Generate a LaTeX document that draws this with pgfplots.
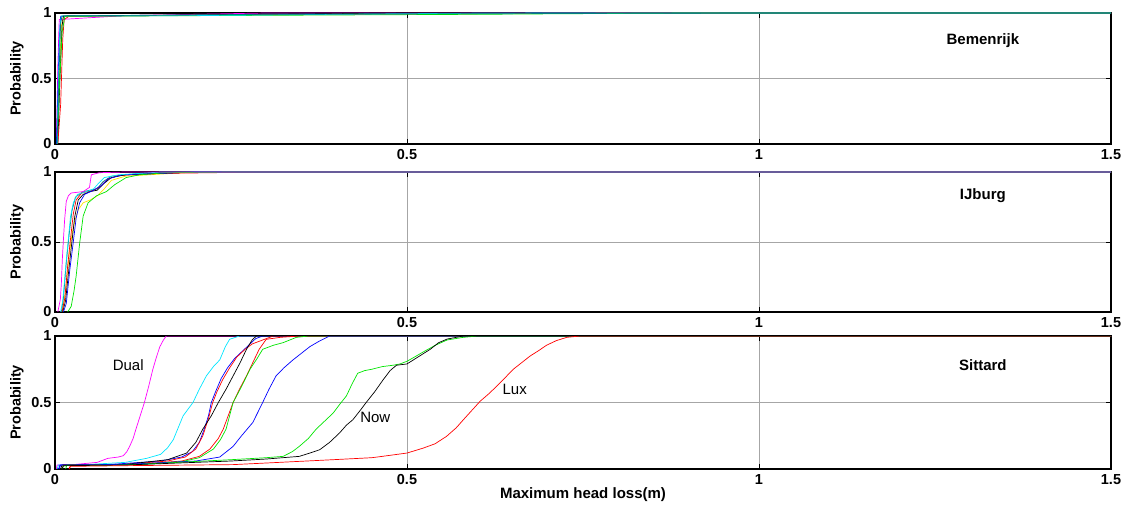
\documentclass[border=0pt]{standalone}
\usepackage{fontspec}
\setmainfont{Liberation Sans}
\usepackage{pgfplots}
\pgfplotsset{compat=1.18}
\definecolor{mblue}{rgb}{0,0,1}
\definecolor{mgreen}{rgb}{0,0.9,0}
\definecolor{mred}{rgb}{1,0,0}
\definecolor{mcyan}{rgb}{0,0.9,1}
\definecolor{mmag}{rgb}{1,0,1}
\definecolor{myel}{rgb}{1,0.9,0}
\definecolor{mteal}{rgb}{0,0.5,0.5}
\tikzset{
  lbl/.style={font=\fontsize{15}{18}\selectfont\bfseries},
  cl/.style={font=\fontsize{15}{18}\selectfont},
}
\pgfplotsset{
  panel/.style={
    scale only axis, width=1056pt,
    xmin=0, xmax=1.5, ymin=0, ymax=1,
    xtick={0,0.5,1,1.5}, ytick={0,0.5,1},
    xticklabels={0,0.5,1,1.5}, yticklabels={0,0.5,1},
    grid=major, grid style={gray!70, line width=0.4pt},
    tick align=inside, major tick length=5pt,
    axis line style={line width=1.1pt},
    every tick/.style={black, line width=0.8pt},
    /pgf/number format/assume math mode=true,
    ticklabel style={font=\fontsize{14.5}{17}\selectfont\bfseries},
    xticklabel style={yshift=-2pt},
    ylabel={Probability},
    ylabel style={font=\fontsize{14.5}{17}\selectfont\bfseries, at={([xshift=-38pt]axis description cs:0,0.5)}, anchor=center},
    every axis plot/.append style={line width=0.7pt, no marks},
  },
}
\begin{document}
\begin{tikzpicture}
\useasboundingbox (-55pt,0pt) rectangle (1077pt,-510pt);
% ---------------- Bemenrijk
\begin{axis}[panel, at={(0pt,-144pt)}, anchor=south west, height=131pt]
\addplot[myel] coordinates {(0.003,0) (0.006,0.5) (0.009,0.9) (0.012,0.975) (0.3,0.99) (0.6,1) (1.5,1)};
\addplot[mmag] coordinates {(0.002,0) (0.004,0.6) (0.006,0.95) (0.1,0.98) (0.3,1) (1.5,1)};
\addplot[mblue] coordinates {(0.002,0) (0.004,0.4) (0.006,0.8) (0.008,0.975) (0.1,0.978) (0.3,0.99) (0.6,1) (1.5,1)};
\addplot[black] coordinates {(0.004,0) (0.007,0.5) (0.01,0.9) (0.012,0.978) (0.2,0.985) (0.5,1) (1.5,1)};
\addplot[mred] coordinates {(0.004,0) (0.008,0.3) (0.011,0.8) (0.013,0.95) (0.02,0.975) (0.09,0.978) (0.4,0.99) (0.8,1) (1.5,1)};
\addplot[mgreen] coordinates {(0.003,0) (0.006,0.4) (0.01,0.85) (0.014,0.975) (0.14,0.978) (0.6,0.99) (0.9,1) (1.5,1)};
\addplot[mcyan] coordinates {(0.003,0) (0.005,0.5) (0.007,0.9) (0.009,0.978) (0.2,0.98) (0.5,0.995) (0.7,1) (1.5,1)};
\addplot[mteal] coordinates {(0.003,0) (0.0055,0.5) (0.008,0.92) (0.01,0.978) (0.3,0.99) (1.0,1) (1.5,1)};
\node[lbl] at (axis cs:1.318,0.79) {Bemenrijk};
\end{axis}
% ---------------- IJburg
\begin{axis}[panel, at={(0pt,-312pt)}, anchor=south west, height=140pt]
\addplot[myel] coordinates {(0.01,0) (0.015,0.15) (0.02,0.4) (0.024,0.55) (0.028,0.65) (0.033,0.73) (0.04,0.78) (0.05,0.8) (0.06,0.83) (0.07,0.88) (0.08,0.94) (0.1,0.97) (0.2,1) (1.5,1)};
\addplot[mteal] coordinates {(0.009,0) (0.012,0.1) (0.016,0.35) (0.02,0.55) (0.024,0.72) (0.029,0.82) (0.04,0.86) (0.06,0.88) (0.068,0.93) (0.08,0.97) (0.12,0.99) (0.2,1) (1.5,1)};
\addplot[mred] coordinates {(0.01,0) (0.014,0.1) (0.018,0.33) (0.022,0.52) (0.026,0.7) (0.03,0.8) (0.038,0.85) (0.055,0.87) (0.065,0.9) (0.075,0.95) (0.09,0.975) (0.15,0.99) (0.3,1) (1.5,1)};
\addplot[black] coordinates {(0.011,0) (0.015,0.08) (0.02,0.32) (0.024,0.5) (0.028,0.68) (0.033,0.8) (0.04,0.84) (0.05,0.86) (0.06,0.87) (0.064,0.89) (0.07,0.92) (0.08,0.96) (0.1,0.98) (0.2,1) (1.5,1)};
\addplot[mblue] coordinates {(0.012,0) (0.016,0.06) (0.021,0.3) (0.026,0.5) (0.03,0.67) (0.035,0.78) (0.042,0.84) (0.055,0.87) (0.065,0.9) (0.075,0.95) (0.095,0.98) (0.2,1) (1.5,1)};
\addplot[mcyan] coordinates {(0.008,0) (0.011,0.08) (0.014,0.25) (0.017,0.42) (0.019,0.52) (0.022,0.68) (0.026,0.78) (0.032,0.84) (0.045,0.86) (0.055,0.88) (0.062,0.92) (0.07,0.96) (0.09,0.98) (0.15,1) (1.5,1)};
\addplot[mgreen] coordinates {(0.018,0) (0.023,0.04) (0.027,0.15) (0.03,0.255) (0.035,0.49) (0.04,0.685) (0.047,0.78) (0.059,0.83) (0.073,0.86) (0.085,0.91) (0.101,0.96) (0.12,0.98) (0.158,0.995) (0.25,1) (1.5,1)};
\addplot[mmag] coordinates {(0.004,0) (0.0076,0.09) (0.009,0.2) (0.0104,0.375) (0.012,0.52) (0.0137,0.66) (0.016,0.79) (0.019,0.83) (0.023,0.85) (0.04,0.86) (0.049,0.89) (0.0516,0.98) (0.063,0.995) (0.1,1) (1.5,1)};
\node[lbl] at (axis cs:1.318,0.83) {IJburg};
\end{axis}
% ---------------- Sittard
\begin{axis}[panel, at={(0pt,-469pt)}, anchor=south west, height=133pt,
  xlabel={Maximum head loss(m)},
  xlabel style={font=\fontsize{15}{18}\selectfont\bfseries, at={([yshift=-26pt]axis description cs:0.5,0)}, anchor=center}]
\addplot[mmag] coordinates {(0.002,0) (0.003,0.03) (0.03,0.035) (0.06,0.05) (0.075,0.08) (0.09,0.09) (0.097,0.10) (0.102,0.13) (0.106,0.17) (0.111,0.23) (0.115,0.30) (0.121,0.40) (0.127,0.50) (0.133,0.62) (0.139,0.75) (0.144,0.84) (0.149,0.92) (0.154,0.97) (0.158,1.0) (1.5,1.0)};
\addplot[mcyan] coordinates {(0.003,0) (0.005,0.03) (0.05,0.035) (0.10,0.05) (0.13,0.08) (0.15,0.11) (0.16,0.16) (0.168,0.22) (0.175,0.31) (0.182,0.40) (0.189,0.45) (0.196,0.50) (0.205,0.60) (0.215,0.70) (0.225,0.77) (0.234,0.82) (0.242,0.92) (0.248,0.975) (0.262,1.0) (1.5,1.0)};
\addplot[mblue] coordinates {(0.005,0) (0.007,0.03) (0.08,0.035) (0.15,0.06) (0.18,0.09) (0.195,0.13) (0.205,0.2) (0.212,0.3) (0.218,0.4) (0.222,0.5) (0.228,0.58) (0.236,0.68) (0.245,0.76) (0.255,0.83) (0.265,0.88) (0.275,0.93) (0.285,0.98) (0.295,1.0) (1.5,1.0)};
\addplot[mred] coordinates {(0.01,0) (0.012,0.03) (0.1,0.035) (0.16,0.06) (0.185,0.09) (0.2,0.15) (0.21,0.25) (0.218,0.38) (0.224,0.5) (0.23,0.58) (0.238,0.67) (0.248,0.76) (0.258,0.84) (0.27,0.9) (0.28,0.94) (0.29,0.96) (0.30,0.98) (0.31,1.0) (1.5,1)};
\addplot[black] coordinates {(0.008,0) (0.01,0.03) (0.1,0.035) (0.16,0.07) (0.187,0.12) (0.2,0.2) (0.21,0.3) (0.222,0.4) (0.232,0.5) (0.243,0.6) (0.253,0.70) (0.263,0.8) (0.272,0.90) (0.28,0.97) (0.286,1.0) (1.5,1)};
\addplot[mred] coordinates {(0.02,0) (0.022,0.03) (0.12,0.035) (0.18,0.06) (0.205,0.095) (0.22,0.15) (0.232,0.23) (0.239,0.3) (0.246,0.4) (0.253,0.5) (0.262,0.6) (0.272,0.70) (0.281,0.8) (0.29,0.90) (0.30,0.975) (0.32,0.99) (0.347,1.0) (1.5,1)};
\addplot[mgreen] coordinates {(0.015,0) (0.017,0.03) (0.12,0.035) (0.18,0.055) (0.205,0.085) (0.225,0.15) (0.235,0.22) (0.243,0.3) (0.248,0.4) (0.253,0.5) (0.265,0.62) (0.277,0.75) (0.287,0.83) (0.295,0.9) (0.31,0.93) (0.324,0.95) (0.343,0.99) (0.36,1) (1.5,1)};
\addplot[mblue] coordinates {(0.006,0) (0.008,0.03) (0.1,0.035) (0.2,0.06) (0.234,0.09) (0.253,0.17) (0.265,0.25) (0.281,0.35) (0.295,0.5) (0.304,0.6) (0.314,0.70) (0.325,0.76) (0.338,0.82) (0.35,0.87) (0.362,0.92) (0.375,0.96) (0.39,1.0) (1.5,1)};
\addplot[mgreen] coordinates {(0.01,0) (0.012,0.025) (0.1,0.03) (0.25,0.07) (0.3,0.085) (0.324,0.095) (0.337,0.13) (0.347,0.17) (0.36,0.23) (0.371,0.30) (0.383,0.36) (0.395,0.42) (0.405,0.49) (0.414,0.55) (0.422,0.64) (0.43,0.72) (0.44,0.74) (0.45,0.75) (0.465,0.77) (0.48,0.78) (0.49,0.79) (0.5,0.81) (0.51,0.84) (0.523,0.88) (0.54,0.93) (0.557,0.97) (0.58,0.99) (0.6,1.0) (1.5,1)};
\addplot[black] coordinates {(0.01,0) (0.012,0.025) (0.1,0.03) (0.25,0.06) (0.3,0.075) (0.347,0.095) (0.362,0.12) (0.376,0.145) (0.39,0.2) (0.404,0.27) (0.414,0.33) (0.423,0.37) (0.432,0.43) (0.442,0.5) (0.454,0.58) (0.466,0.67) (0.476,0.74) (0.485,0.78) (0.5,0.79) (0.515,0.84) (0.533,0.90) (0.545,0.95) (0.557,0.977) (0.58,1.0) (1.5,1)};
\addplot[mred] coordinates {(0.02,0) (0.022,0.02) (0.1,0.025) (0.253,0.033) (0.3,0.045) (0.395,0.07) (0.45,0.085) (0.462,0.093) (0.5,0.12) (0.523,0.157) (0.54,0.19) (0.556,0.245) (0.57,0.31) (0.58,0.37) (0.592,0.44) (0.604,0.51) (0.615,0.56) (0.627,0.62) (0.64,0.69) (0.651,0.75) (0.663,0.80) (0.675,0.85) (0.687,0.89) (0.698,0.93) (0.712,0.965) (0.727,0.99) (0.746,1.0) (1.5,1)};
\node[cl] at (axis cs:0.104,0.78) {Dual};
\node[cl] at (axis cs:0.455,0.386) {Now};
\node[cl] at (axis cs:0.653,0.60) {Lux};
\node[lbl] at (axis cs:1.318,0.78) {Sittard};
\end{axis}
\end{tikzpicture}
\end{document}
